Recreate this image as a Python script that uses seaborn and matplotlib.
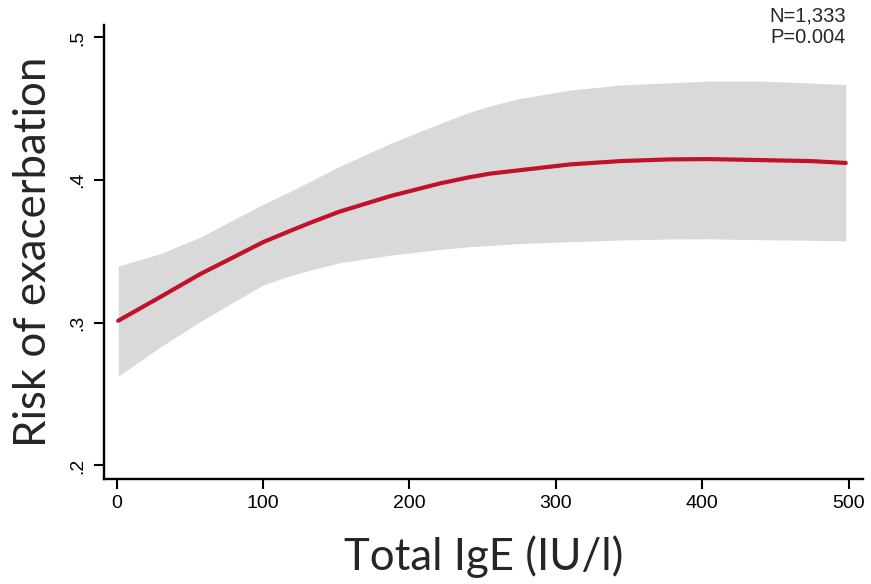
import numpy as np
import pandas as pd
import matplotlib
matplotlib.use("Agg")
import matplotlib.pyplot as plt
import seaborn as sns

# values
ige = [1, 30, 57, 100, 118, 132, 152, 187, 221, 241, 255, 276, 310, 344, 378, 405, 440, 474, 498]
risk = [0.3014, 0.3182, 0.3341, 0.3565, 0.3642, 0.370, 0.3778, 0.3888, 0.3977, 0.402, 0.4045,
        0.407, 0.411, 0.4133, 0.4145, 0.4147, 0.414, 0.4133, 0.412]
upper = [0.3397, 0.3485, 0.360, 0.383, 0.3918, 0.399, 0.4095, 0.4257, 0.4397, 0.4475, 0.452,
         0.4573, 0.4631, 0.4666, 0.4682, 0.4694, 0.4694, 0.468, 0.467]
lower = [0.2626, 0.2832, 0.3008, 0.3265, 0.3328, 0.3369, 0.342, 0.3474, 0.3514, 0.3533, 0.3542,
         0.3556, 0.3568, 0.358, 0.3587, 0.3588, 0.3582, 0.3578, 0.3575]

xticks = [0, 100, 200, 300, 400, 500]
yticks = [0.2, 0.3, 0.4, 0.5]
ytick_labels = [".2", ".3", ".4", ".5"]

df = pd.DataFrame({"ige": ige, "risk": risk, "upper": upper, "lower": lower})

sns.set_style("ticks")
plt.rcParams["font.family"] = ["Liberation Sans", "DejaVu Sans"]

fig = plt.figure(figsize=(8.71, 5.84), dpi=100)
ax = fig.add_axes([0.1194, 0.1798, 0.8714, 0.7772])

# confidence band, then the fitted risk curve
ax.fill_between(df["ige"], df["lower"], df["upper"], color="#d9d9d9", linewidth=0)
sns.lineplot(data=df, x="ige", y="risk", color="#c0122a", linewidth=3, ax=ax)

ax.set_xlim(-8.7, 509.8)
ax.set_ylim(0.1905, 0.5086)
ax.set_xticks(xticks)
ax.set_xticklabels([str(t) for t in xticks])
ax.set_yticks(yticks)
ax.set_yticklabels(ytick_labels, rotation=90, va="center")

sns.despine(ax=ax)
for s in ["left", "bottom"]:
    ax.spines[s].set_linewidth(1.7)
    ax.spines[s].set_color("black")
ax.tick_params(axis="both", labelsize=14, width=1.5, length=7.5, color="black", labelcolor="black")
ax.tick_params(axis="x", pad=4)
ax.tick_params(axis="y", pad=5)

ax.set_xlabel("Total IgE (IU/l)", fontsize=31.5, family="Lato", labelpad=17)
ax.set_ylabel("Risk of exacerbation", fontsize=31.5, family="Lato", labelpad=11)

fig.text(846 / 871, 1 - 7 / 584, "N=1,333\nP=0.004", ha="right", va="top",
         fontsize=14.5, linespacing=1.15)

fig.savefig("out.png", dpi=100)
